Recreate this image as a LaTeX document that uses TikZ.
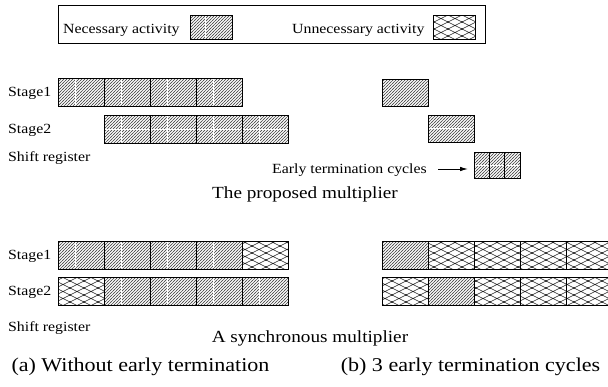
\documentclass[tikz,border=0pt]{standalone}
\usepackage{fontspec}
\setmainfont{Liberation Serif}[FakeStretch=1.13]
\usetikzlibrary{patterns,calc,arrows.meta}
\pgfdeclarepatternformonly{hatchp}{\pgfqpoint{-1pt}{-1pt}}{\pgfqpoint{4pt}{4pt}}{\pgfqpoint{3pt}{3pt}}{%
  \pgfsetlinewidth{0.55pt}%
  \pgfpathmoveto{\pgfqpoint{-1pt}{-1pt}}\pgfpathlineto{\pgfqpoint{4pt}{4pt}}%
  \pgfusepath{stroke}}
\pgfdeclarepatternformonly{meshp}{\pgfqpoint{-1pt}{-1pt}}{\pgfqpoint{15pt}{8pt}}{\pgfqpoint{14pt}{7pt}}{%
  \pgfsetlinewidth{0.6pt}%
  \pgfpathmoveto{\pgfqpoint{-1pt}{-0.5pt}}\pgfpathlineto{\pgfqpoint{15pt}{7.5pt}}%
  \pgfpathmoveto{\pgfqpoint{-1pt}{7.5pt}}\pgfpathlineto{\pgfqpoint{15pt}{-0.5pt}}%
  \pgfusepath{stroke}}
\tikzset{
  cellbox/.style={draw=black, line width=0.9pt, minimum width=46pt, minimum height=28pt, inner sep=0pt, outer sep=0pt},
  nec/.style={cellbox, pattern=hatchp, pattern color=black!68},
  unn/.style={cellbox, pattern=meshp, pattern color=black!85},
  lbl/.style={font=\fontsize{14}{16}\selectfont, anchor=base west, inner sep=0pt},
  captext/.style={font=\fontsize{17}{20}\selectfont, anchor=base, inner sep=0pt},
  subcap/.style={font=\fontsize{19.5}{22}\selectfont, anchor=base, inner sep=0pt},
  gap/.style={draw=white, line width=0.7pt},
}
\newcommand{\vgap}[1]{\draw[gap] ($(#1.north west)!0.37!(#1.north east)+(0,1)$) -- ($(#1.south west)!0.37!(#1.south east)+(0,-1)$);}
\newcommand{\hgap}[1]{\draw[gap] ($(#1.north west)!0.5!(#1.south west)+(1,0)$) -- ($(#1.north east)!0.5!(#1.south east)+(-1,0)$);}
\begin{document}
\begin{tikzpicture}[x=1pt,y=-1pt]
\clip (0,0) rectangle (608,386);
\fill[white] (0,0) rectangle (608,386);
% legend
\node[draw=black, line width=0.8pt, minimum width=427pt, minimum height=38pt, inner sep=0pt] (legend) at (271.5,24) {};
\node[lbl] (necl) at (63,33.5) {Necessary activity};
\node[nec, minimum width=42pt, minimum height=24pt] (necs) at (211,27) {};
\vgap{necs}
\node[lbl] (unnl) at (292,33.5) {Unnecessary activity};
\node[unn, minimum width=42pt, minimum height=24pt] (unns) at (454,27) {};
% (a) top: proposed multiplier
\node[lbl] (a1l) at (8,96.5) {Stage1};
\node[lbl] (a2l) at (8,133.5) {Stage2};
\node[lbl] (a3l) at (8,161.5) {Shift register};
\foreach \i/\x in {1/81,2/127,3/173,4/219}{
  \node[nec, minimum height=28pt] (pa1\i) at (\x,92) {};
  \vgap{pa1\i}
}
\foreach \i/\x in {1/127,2/173,3/219,4/265}{
  \node[nec, minimum height=28pt] (pa2\i) at (\x,129) {};
  \vgap{pa2\i}
  \hgap{pa2\i}
}
% (b) top
\node[nec, minimum height=27pt] (pb1) at (405,92.5) {};
\node[nec, minimum height=27pt] (pb2) at (451,128.5) {};
\hgap{pb2}
\foreach \i/\x in {1/481.67,2/497,3/512.33}{
  \node[nec, minimum width=15.33pt, minimum height=26pt] (et1\i) at (\x,165) {};
  \hgap{et1\i}
}
\node[lbl, anchor=base east] (etl) at (427,173) {Early termination cycles};
\coordinate (ars) at ($(etl.base east)+(11,-4)$);
\coordinate (are) at ($(ars -| et11.west)+(-6,0)$);
\draw[line width=0.9pt, -{Latex[length=8pt,width=4.5pt]}] (ars) -- (are);
\node[captext] (cap1) at (305,198.5) {The proposed multiplier};
% (a) bottom: synchronous multiplier
\node[lbl] (c1l) at (8,259.5) {Stage1};
\node[lbl] (c2l) at (8,295.5) {Stage2};
\node[lbl] (c3l) at (8,331.5) {Shift register};
\foreach \i/\x/\s in {1/81/nec,2/127/nec,3/173/nec,4/219/nec,5/265/unn}{
  \node[\s] (sa1\i) at (\x,255) {};
}
\foreach \i/\x/\s in {1/81/unn,2/127/nec,3/173/nec,4/219/nec,5/265/nec}{
  \node[\s] (sa2\i) at (\x,291) {};
}
\foreach \n in {sa11,sa12,sa13,sa14,sa22,sa23,sa24,sa25}{\vgap{\n}}
% (b) bottom
\foreach \i/\x/\s in {1/405/nec,2/451/unn,3/497/unn,4/543/unn,5/589/unn}{
  \node[\s] (sb1\i) at (\x,255) {};
}
\foreach \i/\x/\s in {1/405/unn,2/451/nec,3/497/unn,4/543/unn,5/589/unn}{
  \node[\s] (sb2\i) at (\x,291) {};
}
\node[captext] (cap2) at (310,342.5) {A synchronous multiplier};
\node[subcap] (suba) at (140.5,371) {(a) Without early termination};
\node[subcap] (subb) at (470.5,371) {(b) 3 early termination cycles};
\end{tikzpicture}
\end{document}
